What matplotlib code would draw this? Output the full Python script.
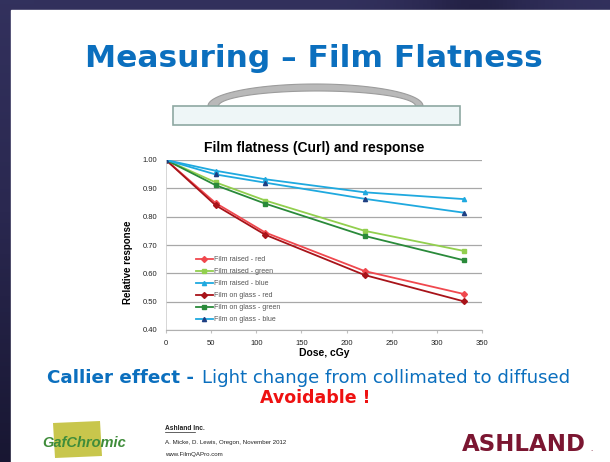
import numpy as np
import matplotlib as mpl
mpl.use("Agg")
from matplotlib import pyplot as plt
from matplotlib.patches import Rectangle, Polygon
from matplotlib.colors import LinearSegmentedColormap

# values
dose = [0, 55, 110, 220, 330]
raised_red = [1.00, 0.848, 0.744, 0.608, 0.527]
raised_green = [1.00, 0.921, 0.857, 0.750, 0.679]
raised_blue = [1.00, 0.962, 0.932, 0.886, 0.862]
glass_red = [1.00, 0.840, 0.736, 0.594, 0.501]
glass_green = [1.00, 0.911, 0.846, 0.732, 0.646]
glass_blue = [1.00, 0.949, 0.920, 0.863, 0.814]
series_labels = ["Film raised - red", "Film raised - green", "Film raised - blue",
                 "Film on glass - red", "Film on glass - green", "Film on glass - blue"]
x_ticks = [0, 50, 100, 150, 200, 250, 300, 350]
y_ticks = [0.40, 0.50, 0.60, 0.70, 0.80, 0.90, 1.00]

W, H = 610, 462
ARIAL = "Liberation Sans"
VERD = "DejaVu Sans"
BLUE = "#0B6FBE"

fig = plt.figure(figsize=(W / 100, H / 100), dpi=100)

# slide background in pixel coordinates
bg = fig.add_axes([0, 0, 1, 1])
bg.set_xlim(0, W)
bg.set_ylim(H, 0)
bg.axis("off")
yy, xx = np.mgrid[0:1:120j, 0:1:160j]
grad = 0.75 - 0.55 * yy - 0.35 * np.exp(-((xx - 0.78) / 0.12) ** 2) * (yy < 0.05)
cmap = LinearSegmentedColormap.from_list("slide", ["#0c0b1e", "#2a2850", "#3b3a6a"])
bg.imshow(grad, cmap=cmap, extent=(0, W, H, 0), aspect="auto", vmin=0, vmax=1)
bg.add_patch(Rectangle((11, 10), W - 11, H - 10, color="white"))

bg.text(314, 67, "Measuring \u2013 Film Flatness", color=BLUE, fontsize=22.5,
        fontweight="bold", family=VERD, ha="center", va="baseline")

# curled film on glass
t = np.linspace(0, np.pi, 120)
outer = np.column_stack([315.5 + 107.5 * np.cos(t), 106 - 22 * np.sin(t)])
inner = np.column_stack([317 + 98.5 * np.cos(t[::-1]), 106 - 15 * np.sin(t[::-1])])
bg.add_patch(Polygon(np.vstack([outer, inner]), closed=True, fc="#B9B9B9", ec="#9C9C9C", lw=0.8))
bg.add_patch(Rectangle((173, 106), 287, 19, fc="#EEF6F7", ec="#8EA8A2", lw=1.2))

# footer text
bg.text(47, 383, "Callier effect -", color=BLUE, fontsize=13.2, fontweight="bold",
        family=VERD, va="baseline")
bg.text(202, 383, "Light change from collimated to diffused", color=BLUE, fontsize=13.1,
        family=VERD, va="baseline")
bg.text(260, 403, "Avoidable !", color="#EE1111", fontsize=12.5, fontweight="bold",
        family=VERD, va="baseline")

bg.add_patch(Polygon([[53, 423], [100, 421], [102, 456], [55, 458]], closed=True,
                     fc="#C8C64C", ec="none"))
bg.text(84, 447, "GafChromic", color="#3F8C3A", fontsize=10.5, fontweight="bold",
        style="italic", family=ARIAL, ha="center", va="baseline")

bg.text(165, 430, "Ashland Inc.", color="#222222", fontsize=4.8, fontweight="bold",
        family=ARIAL, va="baseline")
bg.plot([165, 195], [432, 432], color="#222222", lw=0.5)
bg.text(165, 444, "A. Micke, D. Lewis, Oregon, November 2012", color="#222222",
        fontsize=4.4, family=ARIAL, va="baseline")
bg.text(165, 456, "www.FilmQAPro.com", color="#222222", fontsize=4.4,
        family=ARIAL, va="baseline")
bg.text(462, 451, "ASHLAND", color="#7B1631", fontsize=16.5, fontweight="bold",
        family=VERD, va="baseline")
bg.text(590, 451, ".", color="#7B1631", fontsize=5, family=VERD, va="baseline")

# chart
bg.text(314, 152, "Film flatness (Curl) and response", color="black", fontsize=10,
        fontweight="bold", family=ARIAL, ha="center", va="baseline")
bg.text(128, 262, "Relative response", color="black", fontsize=7, fontweight="bold",
        family=ARIAL, rotation=90, ha="center", va="center")

ax = fig.add_axes([166 / W, 1 - 330 / H, 316 / W, 170 / H])
ax.patch.set_alpha(0)
ax.set_xlim(0, 350)
ax.set_ylim(0.40, 1.00)
ax.set_xticks(x_ticks)
ax.set_yticks(y_ticks)
ax.set_yticklabels(["{:.2f}".format(v) for v in y_ticks])
ax.grid(axis="y", color="#A8A8A8", lw=0.9)
ax.set_axisbelow(True)
for side in ["top", "right"]:
    ax.spines[side].set_visible(False)
ax.spines["left"].set_color("#D0D0D0")
ax.spines["bottom"].set_color("#B0B0B0")
ax.spines["left"].set_linewidth(0.6)
ax.spines["bottom"].set_linewidth(0.8)
ax.tick_params(axis="y", length=0, pad=6.5, labelsize=5.5, labelcolor="#222222")
ax.tick_params(axis="x", length=2, color="#C0C0C0", pad=5, labelsize=5.5, labelcolor="#222222")
for lab in ax.get_xticklabels() + ax.get_yticklabels():
    lab.set_family(ARIAL)
ax.set_xlabel("Dose, cGy", fontsize=7.5, fontweight="bold", family=ARIAL, labelpad=1)

all_series = [raised_red, raised_green, raised_blue, glass_red, glass_green, glass_blue]
line_colors = ["#F0484E", "#92CF4E", "#1FA9DF", "#A81319", "#2A8A3A", "#1FA9DF"]
marker_colors = ["#F0484E", "#92CF4E", "#1FA9DF", "#A81319", "#2A8A3A", "#1E3F82"]
markers = ["D", "s", "^", "D", "s", "^"]
for vals, lc, mc, mk, lab in zip(all_series, line_colors, marker_colors, markers, series_labels):
    ax.plot(dose, vals, color=lc, lw=1.3, marker=mk, markersize=3,
            markerfacecolor=mc, markeredgecolor=mc, label=lab)

ax.legend(loc="upper left", bbox_to_anchor=(0.085, 0.449), frameon=False,
          labelcolor="#555555", handlelength=2.5, handletextpad=0.2, labelspacing=0.72,
          borderaxespad=0, prop={"family": ARIAL, "size": 5})

fig.savefig("out.png", dpi=100)
